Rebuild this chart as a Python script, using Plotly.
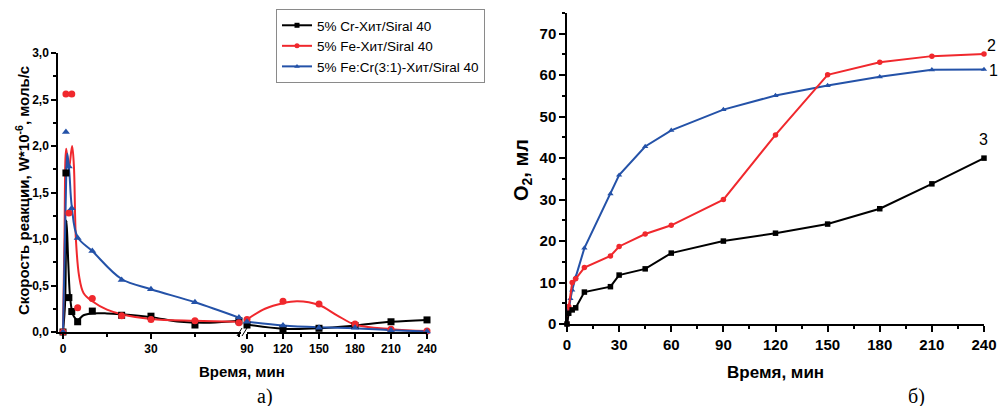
import plotly.graph_objects as go

# ---------------- Left chart (a): reaction rate, W*10^-6 mol/s ----------------
# Segment 1 (0-60 min) measured points
t1 = [0, 1, 2, 3, 5, 10, 20, 30, 45, 60]
cr_v1 = [0, 1.71, 0.37, 0.22, 0.11, 0.225, 0.18, 0.17, 0.075, 0.12]
fe_t1 = [0, 1, 2, 3, 5, 10, 20, 30, 45, 60]
fe_v1 = [0, 2.56, 1.28, 2.56, 0.26, 0.36, 0.175, 0.135, 0.12, 0.10]
fecr_v1 = [0, 2.15, 1.78, 1.33, 1.01, 0.87, 0.56, 0.46, 0.32, 0.155]

# Segment 2 (90-240 min) measured points
t2 = [90, 120, 150, 180, 210, 240]
cr_v2 = [0.075, 0.03, 0.04, 0.07, 0.11, 0.13]
fe_v2 = [0.135, 0.33, 0.30, 0.085, 0.03, 0.01]
fecr_v2 = [0.11, 0.07, 0.045, 0.045, 0.02, 0.005]

# Smoothed curves
cr_fit_t1 = [0, 0.7, 1.2, 1.8, 2.5, 3.5, 5, 7, 10, 15, 20, 30, 40, 50, 60]
cr_fit_v1 = [0, 0.3, 1.2, 0.75, 0.35, 0.18, 0.13, 0.18, 0.2, 0.2, 0.19, 0.16, 0.11, 0.1, 0.12]
fe_fit_t1 = [0, 0.5, 1.1, 2, 3.1, 3.7, 4.4, 5.5, 7, 10, 15, 20, 30, 45, 60]
fe_fit_v1 = [0, 1.0, 1.97, 1.75, 2.0, 1.8, 1.0, 0.6, 0.42, 0.33, 0.24, 0.19, 0.14, 0.12, 0.11]
fecr_fit_t1 = [0, 0.8, 1.5, 2.2, 3, 5, 10, 20, 30, 45, 60]
fecr_fit_v1 = [0, 1.2, 1.92, 1.7, 1.35, 1.02, 0.87, 0.57, 0.46, 0.32, 0.155]

cr_fit_t2 = [90, 120, 150, 180, 210, 240]
cr_fit_v2 = [0.08, 0.035, 0.04, 0.07, 0.11, 0.13]
fe_fit_t2 = [90, 105, 120, 132, 150, 165, 180, 210, 240]
fe_fit_v2 = [0.135, 0.25, 0.31, 0.33, 0.29, 0.18, 0.08, 0.03, 0.01]
fecr_fit_t2 = [90, 120, 150, 180, 210, 240]
fecr_fit_v2 = [0.11, 0.07, 0.05, 0.04, 0.02, 0.005]

# ---------------- Right chart (б): O2 volume, ml ----------------
t_b1 = [0, 1, 2, 3, 5, 10, 25, 30, 45, 60, 90, 120, 150, 180, 210, 240]
o2_fecr = [0, 3.5, 6.1, 8.2, 11.3, 18.3, 31.4, 35.9, 42.8, 46.7, 51.7, 55.1, 57.5, 59.6, 61.3, 61.4]
t_b2 = [0, 1, 3, 5, 10, 25, 30, 45, 60, 90, 120, 150, 180, 210, 240]
o2_fe = [0, 4.2, 10.0, 10.9, 13.6, 16.4, 18.7, 21.7, 23.8, 30.0, 45.6, 60.1, 63.1, 64.6, 65.1]
t_b3 = [0, 1, 3, 5, 10, 25, 30, 45, 60, 90, 120, 150, 180, 210, 240]
o2_cr = [0, 2.6, 3.4, 3.9, 7.7, 9.0, 11.8, 13.3, 17.1, 20.0, 21.9, 24.1, 27.8, 33.8, 40.0]

names = ["5% Cr-Хит/Siral 40", "5% Fe-Хит/Siral 40", "5% Fe:Cr(3:1)-Хит/Siral 40"]
BLACK = "#000000"
RED = "#f0282d"
BLUE = "#2452a8"
colors = [BLACK, RED, BLUE]
symbols = ["square", "circle", "triangle-up"]

FONT = "Liberation Sans, Arial, sans-serif"
SERIF = "Liberation Serif, Times New Roman, serif"

fig = go.Figure()

# Left: fitted curves
for ft, fv, ax, c in [
    (cr_fit_t1, cr_fit_v1, "x", BLACK), (fe_fit_t1, fe_fit_v1, "x", RED), (fecr_fit_t1, fecr_fit_v1, "x", BLUE),
    (cr_fit_t2, cr_fit_v2, "x2", BLACK), (fe_fit_t2, fe_fit_v2, "x2", RED), (fecr_fit_t2, fecr_fit_v2, "x2", BLUE),
]:
    fig.add_trace(go.Scatter(x=ft, y=fv, xaxis=ax, yaxis="y", mode="lines",
                             line=dict(color=c, width=2, shape="spline", smoothing=1.0),
                             showlegend=False, hoverinfo="skip", cliponaxis=False))

# Left: measured points
for tt, vv, ax, c, s in [
    (t1, cr_v1, "x", BLACK, "square"), (fe_t1, fe_v1, "x", RED, "circle"), (t1, fecr_v1, "x", BLUE, "triangle-up"),
    (t2, cr_v2, "x2", BLACK, "square"), (t2, fe_v2, "x2", RED, "circle"), (t2, fecr_v2, "x2", BLUE, "triangle-up"),
]:
    fig.add_trace(go.Scatter(x=tt, y=vv, xaxis=ax, yaxis="y", mode="markers",
                             marker=dict(color=c, symbol=s, size=7),
                             showlegend=False, cliponaxis=False))

# Legend entries (line + marker)
for n, c, s in zip(names, colors, symbols):
    fig.add_trace(go.Scatter(x=[None], y=[None], xaxis="x", yaxis="y", mode="lines+markers", name=n,
                             line=dict(color=c, width=2), marker=dict(color=c, symbol=s, size=5)))

# Right chart
for tt, vv, c, s in [(t_b1, o2_fecr, BLUE, "triangle-up"), (t_b2, o2_fe, RED, "circle"), (t_b3, o2_cr, BLACK, "square")]:
    fig.add_trace(go.Scatter(x=tt, y=vv, xaxis="x3", yaxis="y2", mode="lines+markers",
                             line=dict(color=c, width=2), marker=dict(color=c, symbol=s, size=5.5),
                             showlegend=False, cliponaxis=False))

W = 1000.0
H = 406.0
def px(p):
    return p / W
def py(p):
    return (H - p) / H

tickfont_l = dict(family=FONT, size=12, color="black", weight="bold")
tickfont_r = dict(family=FONT, size=15, color="black", weight="bold")
common = dict(showline=True, linecolor="black", linewidth=1.5, ticks="outside", tickcolor="black",
              tickwidth=1.5, showgrid=False, zeroline=False, automargin=False)
minor_common = dict(ticks="outside", tickcolor="black", tickwidth=1.5)

fig.update_layout(
    template="none",
    width=int(W), height=int(H),
    margin=dict(l=0, r=0, t=0, b=0, pad=0, autoexpand=False),
    paper_bgcolor="white", plot_bgcolor="white",
    separators=", ",
    font=dict(family=FONT, color="black"),
    xaxis=dict(domain=[px(58), px(241)], range=[-1.7, 60.7], anchor="y", tickvals=[0, 30],
               ticklen=5, tickfont=tickfont_l,
               minor=dict(tickvals=[15, 45, 60], ticklen=3, **minor_common), **common),
    xaxis2=dict(domain=[px(247), px(427)], range=[90, 240], anchor="y", tickvals=[90, 120, 150, 180, 210, 240],
                ticklen=5, tickfont=tickfont_l,
                minor=dict(dtick=15, ticklen=3, **minor_common), **common),
    yaxis=dict(domain=[py(332), py(53)], range=[0, 3], anchor="x", dtick=0.5, tickformat=".1f",
               ticklen=5, tickfont=tickfont_l,
               minor=dict(dtick=0.25, ticklen=3, **minor_common), **common),
    xaxis3=dict(domain=[px(567), px(984)], range=[0, 240], anchor="y2", dtick=30,
                ticklen=6, tickfont=tickfont_r,
                minor=dict(dtick=15, ticklen=3, **minor_common), **common),
    yaxis2=dict(domain=[py(324), py(13)], range=[0, 75], anchor="x3", tickvals=[0, 10, 20, 30, 40, 50, 60, 70],
                ticklen=6, tickfont=tickfont_r,
                minor=dict(dtick=5, ticklen=3, **minor_common), **common),
    legend=dict(x=px(276), y=py(9), xanchor="left", yanchor="top", bgcolor="white",
                bordercolor="#8a8a8a", borderwidth=1, font=dict(family=FONT, size=13.5, color="black"),
                tracegroupgap=0, itemwidth=30),
)

# axis-break marks
for x0 in [237, 242]:
    fig.add_shape(type="line", xref="paper", yref="paper", x0=px(x0), y0=py(336), x1=px(x0 + 5),
                  y1=py(328), line=dict(color="black", width=1))

ann = [
    dict(text="Скорость реакции, W*10<sup>-6</sup>, моль/с", x=px(22), y=py(191), textangle=-90,
         font=dict(family=FONT, size=15, color="black", weight="bold")),
    dict(text="Время, мин", x=px(242), y=py(371), font=dict(family=FONT, size=15, color="black", weight="bold")),
    dict(text="а)", x=px(265), y=py(396), font=dict(family=SERIF, size=20, color="black")),
    dict(text="O<sub>2</sub>, мл", x=px(522), y=py(170), textangle=-90,
         font=dict(family=FONT, size=20, color="black", weight="bold")),
    dict(text="Время, мин", x=px(775), y=py(372), font=dict(family=FONT, size=17, color="black", weight="bold")),
    dict(text="б)", x=px(916), y=py(396), font=dict(family=SERIF, size=20, color="black")),
    dict(text="2", x=px(991), y=py(46), font=dict(family=FONT, size=16, color="black")),
    dict(text="1", x=px(993), y=py(71), font=dict(family=FONT, size=16, color="black")),
    dict(text="3", x=px(983), y=py(139), font=dict(family=FONT, size=16, color="black")),
]
for a in ann:
    fig.add_annotation(xref="paper", yref="paper", showarrow=False, xanchor="center", yanchor="middle", **a)

# remove the default page margin so the 1000x406 figure fills the window exactly
fig.write_html("out.html", config={"displayModeBar": False},
               post_script="document.body.style.margin='0';document.body.style.overflow='hidden';")
